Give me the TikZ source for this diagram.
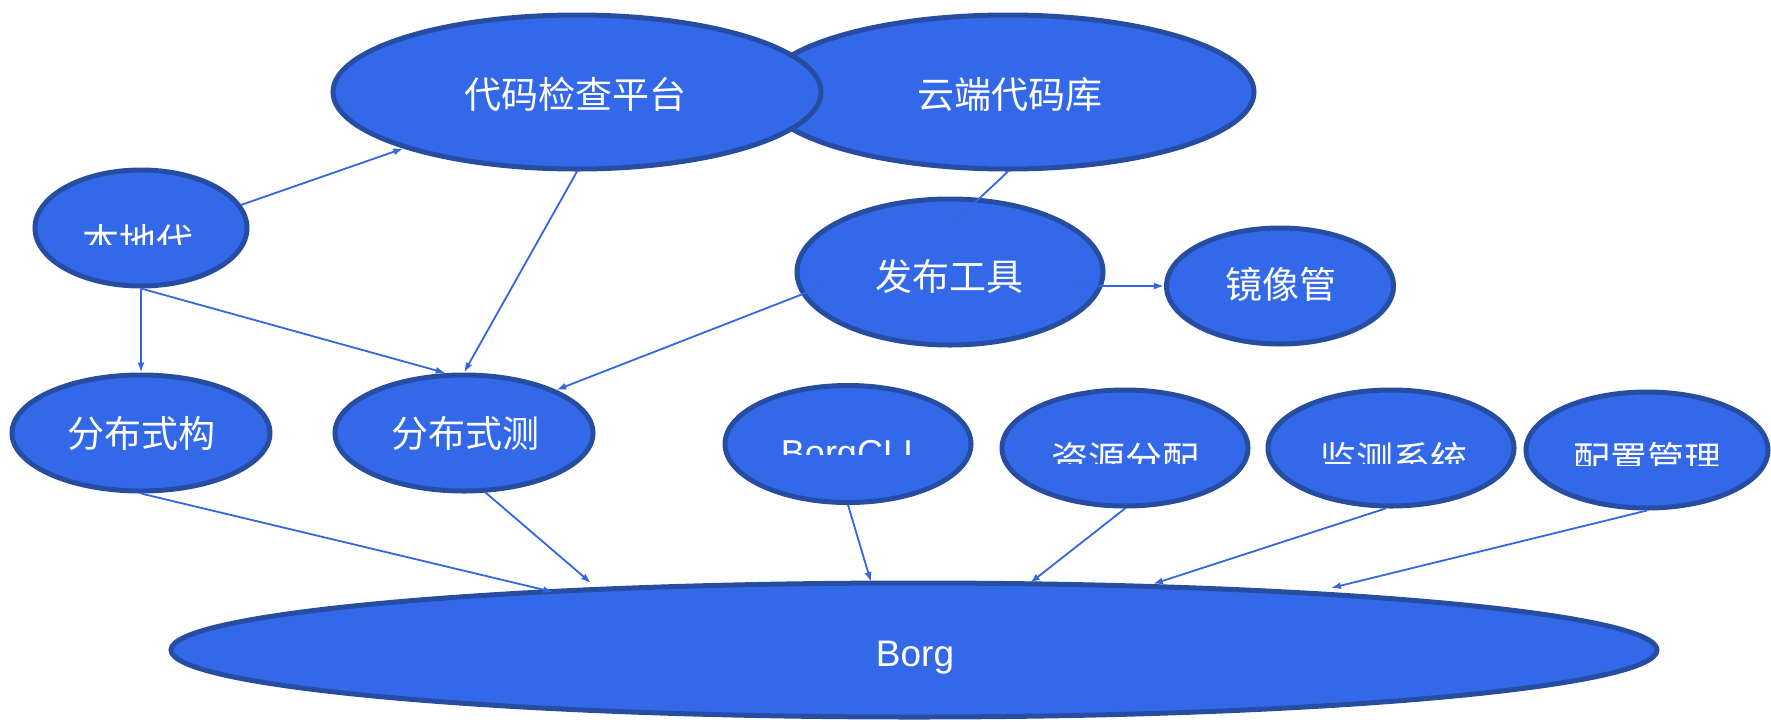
\documentclass[tikz,border=0pt]{standalone}
\usepackage{fontspec}
\setmainfont{Liberation Sans}
\newfontfamily\cjk{Noto Sans CJK SC}
\usetikzlibrary{arrows.meta,calc,shapes.geometric}
\definecolor{nfill}{HTML}{3369E8}
\definecolor{nborder}{HTML}{274DA3}
\definecolor{lcol}{HTML}{3366E0}
\begin{document}
\begin{tikzpicture}[x=1pt,y=-1pt,
  ell/.style={ellipse, draw=nborder, line width=5pt, fill=nfill, inner sep=0pt},
  lbl/.style={anchor=base, text=white, font=\cjk\fontsize{37}{40}\selectfont, inner sep=0pt},
  lat/.style={anchor=base, text=white, font=\fontsize{37}{40}\selectfont, inner sep=0pt},
  conn/.style={draw=lcol, line width=1.8pt, -{Latex[length=10pt,width=7pt]}},
  plainline/.style={draw=lcol, line width=1.8pt}]
\useasboundingbox (0,0) rectangle (1771,721);

% nodes
\node[ell, minimum width=492pt, minimum height=154pt] (yd) at (1008,92) {};
\node[ell, minimum width=488pt, minimum height=154pt] (dm) at (577,92) {};
\node[ell, minimum width=212pt, minimum height=116pt] (bd) at (141,228) {};
\node[ell, minimum width=306pt, minimum height=146pt] (fb) at (950,272) {};
\node[ell, minimum width=227pt, minimum height=116pt] (jx) at (1280,286) {};
\node[ell, minimum width=258pt, minimum height=116pt] (gj) at (141,433) {};
\node[ell, minimum width=258pt, minimum height=116pt] (cs) at (464,433) {};
\node[ell, minimum width=246pt, minimum height=117pt] (cli) at (848,444) {};
\node[ell, minimum width=246pt, minimum height=116pt] (zy) at (1125,448) {};
\node[ell, minimum width=246pt, minimum height=116pt] (jc) at (1391,448) {};
\node[ell, minimum width=242pt, minimum height=116pt] (pz) at (1647,450) {};
\node[ell, minimum width=1486pt, minimum height=134pt] (borg) at (914,650) {};

% labels
\node[lbl] (dmt) at (575,108) {代码检查平台};
\node[lbl] (ydt) at (1010,108) {云端代码库};
\node[lbl] (fbt) at (949,290) {发布工具};
\node[lbl] (jxt) at (1281,298) {镜像管};
\node[lbl] (gjt) at (141,447) {分布式构};
\node[lbl] (cst) at (465,447) {分布式测};
\node[lat] (borgt) at (915,666) {Borg};
\begin{scope}
  \clip (0,0) rectangle (400,244);
  \node[lbl] (bdt) at (138,255) {本地代};
\end{scope}
\begin{scope}
  \clip (700,380) rectangle (990,454);
  \node[lat, font=\fontsize{36}{40}\selectfont] (clit) at (847,465) {BorgCLI};
\end{scope}
\begin{scope}
  \clip (990,380) rectangle (1520,463);
  \node[lbl] (zyt) at (1125,473) {资源分配};
  \node[lbl] (jct) at (1393,473) {监测系统};
\end{scope}
\begin{scope}
  \clip (1520,380) rectangle (1771,465);
  \node[lbl] (pzt) at (1647,473) {配置管理};
\end{scope}

% connectors
\draw[conn] (bd.13) -- (dm.198);
\draw[conn] (dm.270) -- (cs.90);
\draw[conn] (bd.270) -- (gj.90);
\draw[conn] (bd.270) -- (cs.107);
\draw[plainline] (yd.270) -- ($(fb.center)+(0,-46)$);
\draw[conn] ($(fb.center)+(122,14)$) -- (jx.180);
\draw[conn] ($(fb.center)+(-124,13)$) -- (cs.25);
\draw[conn] (gj.270) -- ($(borg.center)+(-361,-58)$);
\draw[conn] (cs.-70) -- ($(borg.center)+(-323,-67)$);
\draw[conn] (cli.270) -- ($(borg.center)+(-43,-68)$);
\draw[conn] (zy.270) -- ($(borg.center)+(116,-67)$);
\draw[conn] (jc.265) -- ($(borg.center)+(239,-66)$);
\draw[conn] (pz.270) -- ($(borg.center)+(417,-62)$);
\end{tikzpicture}
\end{document}
